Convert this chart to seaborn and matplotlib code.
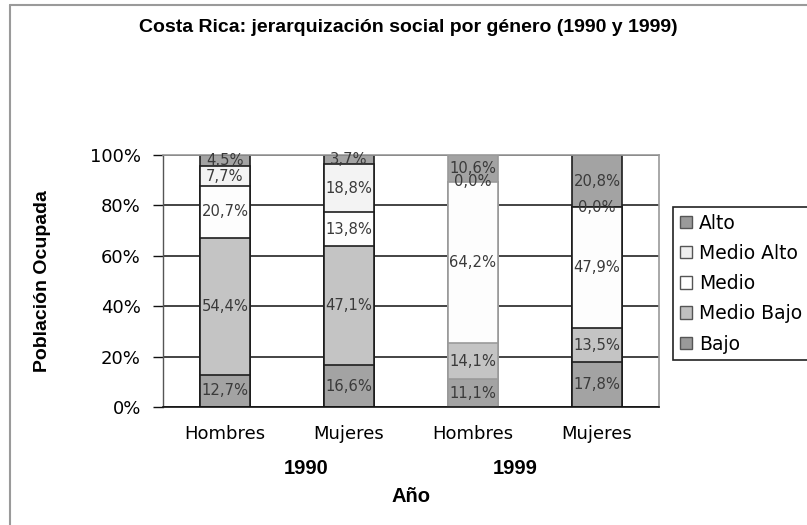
import numpy as np
import pandas as pd
import seaborn as sns
import matplotlib.pyplot as plt
from matplotlib.patches import Patch
from matplotlib.lines import Line2D
from matplotlib.ticker import PercentFormatter, FixedLocator

# —— DATA —— #
groups = ["1990 Hombres", "1990 Mujeres", "1999 Hombres", "1999 Mujeres"]
sexes = ["Hombres", "Mujeres", "Hombres", "Mujeres"]
years = ["1990", "1999"]

bajo = [12.7, 16.6, 11.1, 17.8]
medio_bajo = [54.4, 47.1, 14.1, 13.5]
medio = [20.7, 13.8, 64.2, 47.9]
medio_alto = [7.7, 18.8, 0.0, 0.0]
alto = [4.5, 3.7, 10.6, 20.8]

levels = ["Bajo", "Medio Bajo", "Medio", "Medio Alto", "Alto"]
values = [bajo, medio_bajo, medio, medio_alto, alto]

# —— STYLE —— #
COLORS = {
    "Bajo": "#a3a3a3",
    "Medio Bajo": "#c4c4c4",
    "Medio": "#fdfdfd",
    "Medio Alto": "#f3f3f3",
    "Alto": "#a3a3a3",
}
LEGEND_COLORS = {
    "Bajo": "#9a9a9a",
    "Medio Bajo": "#c0c0c0",
    "Medio": "#ffffff",
    "Medio Alto": "#eeeeee",
    "Alto": "#9a9a9a",
}

sns.set_style("white")
plt.rcParams["font.family"] = ["DejaVu Sans"]
plt.rcParams["text.color"] = "black"
plt.rcParams["axes.labelcolor"] = "black"
plt.rcParams["xtick.labelcolor"] = "black"
plt.rcParams["ytick.labelcolor"] = "black"
BOLD = "Liberation Sans"

W, H = 807, 525
fig = plt.figure(figsize=(W / 100, H / 100), dpi=100)
ax = fig.add_axes([163 / W, 1 - 407 / H, 496 / W, 252 / H])

# long table with cumulative tops
rows = []
for lvl, vals in zip(levels, values):
    for g, v in zip(groups, vals):
        rows.append({"grupo": g, "nivel": lvl, "valor": v})
df = pd.DataFrame(rows)
df["nivel"] = pd.Categorical(df["nivel"], levels, ordered=True)
df = df.sort_values(["grupo", "nivel"])
df["top"] = df.groupby("grupo")["valor"].cumsum()
df["bottom"] = df["top"] - df["valor"]

# draw from the tallest stack down so lower segments overlay
for lvl in reversed(levels):
    sub = df[df["nivel"] == lvl]
    sns.barplot(data=sub, x="grupo", y="top", order=groups, color=COLORS[lvl],
                saturation=1, width=0.4, edgecolor="#1e1e1e", linewidth=1.2,
                ax=ax, zorder=2)

# the 1999 men's bar has lighter outlines in the original
for p in ax.patches:
    if abs(p.get_x() + p.get_width() / 2 - 2) < 0.1:
        p.set_edgecolor("#9a9a9a")

# segment labels
for _, r in df.iterrows():
    i = groups.index(r["grupo"])
    txt = f"{r['valor']:.1f}%".replace(".", ",")
    ax.text(i, r["bottom"] + r["valor"] / 2, txt, ha="center", va="center",
            fontsize=10.6, color="#3a3a3a", zorder=3)

# axes
ax.set_xlim(-0.5, 3.5)
ax.set_ylim(0, 100)
ax.set_yticks(np.arange(0, 101, 20))
ax.yaxis.set_major_formatter(PercentFormatter(xmax=100, decimals=0))
ax.set_axisbelow(True)
ax.yaxis.grid(True, color="#111111", linewidth=1.1)
ax.xaxis.grid(False)

ax.set_xticks(range(len(groups)))
ax.set_xticklabels(sexes)
ax.xaxis.set_minor_locator(FixedLocator(np.arange(-0.5, 4, 1)))
ax.tick_params(axis="x", which="major", length=0, pad=13, labelsize=13)
ax.tick_params(axis="x", which="minor", length=5, width=1, color="#111111",
               direction="out")
ax.tick_params(axis="y", length=7, width=1, color="#111111", direction="out",
               pad=9, labelsize=13, left=True)

for side in ["top", "right"]:
    ax.spines[side].set_visible(True)
    ax.spines[side].set_color("#9a9a9a")
    ax.spines[side].set_linewidth(1.2)
ax.spines["left"].set_color("#555555")
ax.spines["left"].set_linewidth(1)
ax.spines["bottom"].set_color("#111111")
ax.spines["bottom"].set_linewidth(1.2)

ax.set_ylabel("Población Ocupada", fontsize=14, fontweight="bold", family=BOLD)
ax.yaxis.set_label_coords((43 - 163) / 496, 0.5)
ax.yaxis.label.set_verticalalignment("center")

ax.set_xlabel("Año", fontsize=14.5, fontweight="bold", family=BOLD)
ax.xaxis.set_label_coords(0.5, (407 - 497) / 252)
ax.xaxis.label.set_verticalalignment("center")

# year group labels
for yr, xpx in zip(years, [306, 515]):
    fig.text(xpx / W, 1 - 468 / H, yr, ha="center", va="center",
             fontsize=14.5, fontweight="bold", family=BOLD)

fig.suptitle("Costa Rica: jerarquización social por género (1990 y 1999)",
             x=408 / W, y=1 - 28 / H, ha="center", va="center",
             fontsize=14, fontweight="bold", family=BOLD)

# legend
handles = [Patch(facecolor=LEGEND_COLORS[l], edgecolor="#555555", linewidth=1)
           for l in reversed(levels)]
leg = fig.legend(handles, list(reversed(levels)), loc="upper left",
                 bbox_to_anchor=(673 / W, 1 - 207 / H), frameon=True,
                 fancybox=False, edgecolor="#222222", framealpha=1,
                 borderpad=0.35, labelspacing=0.6, handlelength=0.65,
                 handleheight=0.65, handletextpad=0.4, borderaxespad=0,
                 fontsize=13.5)
leg.get_frame().set_linewidth(1.2)

# outer chart-area border (left and top visible)
fig.add_artist(Line2D([10 / W, 10 / W], [0, 1 - 5 / H], color="#9a9a9a", lw=1.5))
fig.add_artist(Line2D([10 / W, 1], [1 - 5 / H, 1 - 5 / H], color="#9a9a9a", lw=1.5))

fig.savefig("out.png", dpi=100)
